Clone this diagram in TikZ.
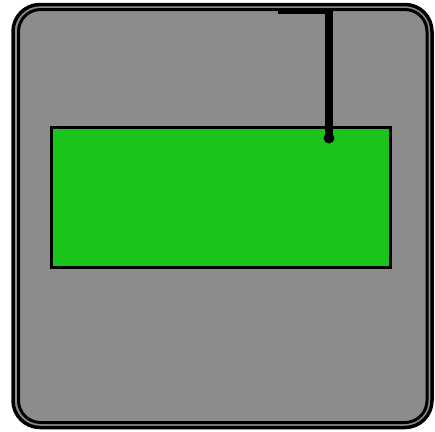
\documentclass[tikz,border=0pt]{standalone}
\usetikzlibrary{positioning}

\definecolor{framegray}{RGB}{140,140,140}
\definecolor{panelgreen}{RGB}{27,196,27}

\begin{document}
\begin{tikzpicture}[
  x=1pt, y=-1pt,
  frame/.style={draw=black, line width=3.5pt, rounded corners=27pt},
  panel/.style={rectangle, draw=black, line width=3pt, fill=panelgreen,
                minimum width=339pt, minimum height=140pt, inner sep=0pt},
  wire/.style={draw=black, line width=7.5pt},
  hook/.style={circle, fill=black, minimum size=11pt, inner sep=0pt}
]
\useasboundingbox (0,0) rectangle (435,431);
% outer case, two strokes
\draw[frame, fill=framegray] (13,4.5) rectangle (432,427.5);
\draw[frame, line width=3pt, rounded corners=22pt] (18.5,9.5) rectangle (427,422.5);

% green panel and its hanger
\node[panel] (board) at (220.5,197) {};
\coordinate (bar left) at (278,11.5);
\coordinate (bar right) at (332,11.5);
\coordinate (top) at (329,10);
\node[hook] (pin) at (329,138) {};
\draw[wire, line width=4.5pt] (bar left) -- (bar right);
\draw[wire] (top) -- (pin.center);
\end{tikzpicture}
\end{document}
